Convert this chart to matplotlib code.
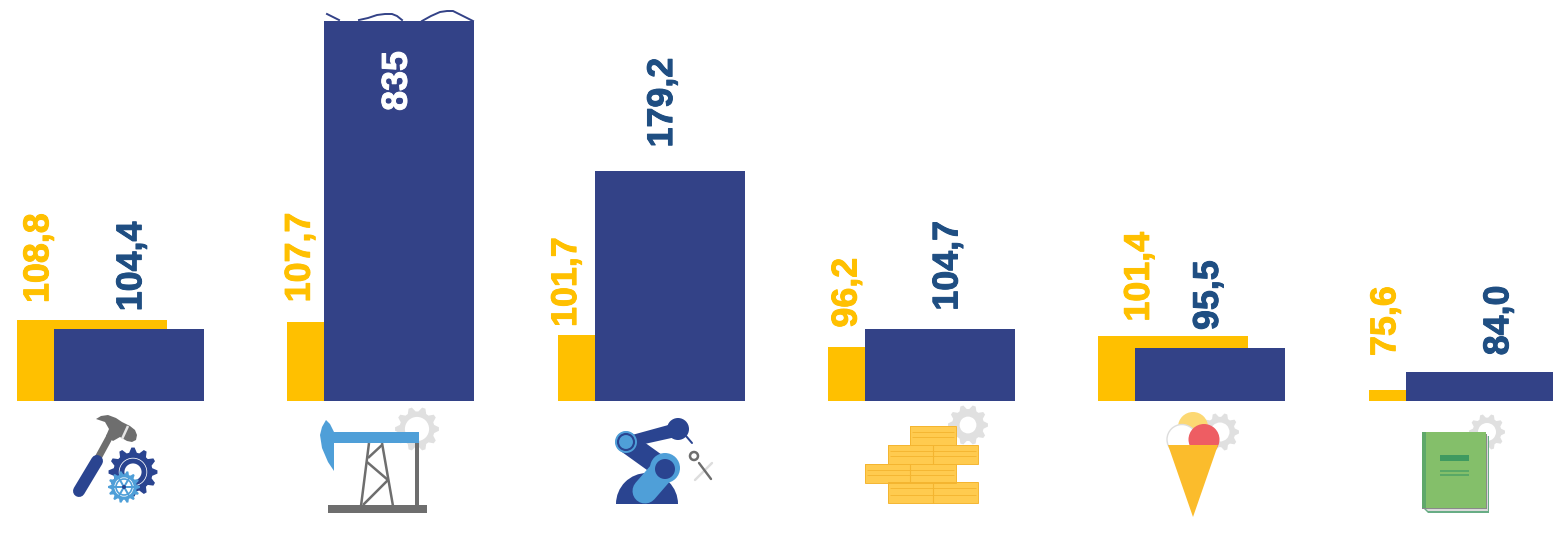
import numpy as np
import matplotlib
matplotlib.use("Agg")
import matplotlib.pyplot as plt
import matplotlib.patheffects as pe
from matplotlib.patches import Polygon, Circle, Rectangle, Wedge

# ---- data ----
series_a = [108.8, 107.7, 101.7, 96.2, 101.4, 75.6]
series_b = [104.4, 835.0, 179.2, 104.7, 95.5, 84.0]
labels_a = ["108,8", "107,7", "101,7", "96,2", "101,4", "75,6"]
labels_b = ["104,4", "835", "179,2", "104,7", "95,5", "84,0"]

# ---- label nudges in pixels, relative to the bar centre and top ----
nudge_a = [(-53, 17), (-62, 20), (-66, 8), (-56, 19), (-34, 14), (-58, 34)]
nudge_b = [(3, 18), (-2, 0), (-7, 24), (8, 18), (-2, 18), (18, 17)]

W, H = 1553, 536
YEL, BLU, TXT = "#FFC000", "#334287", "#1F4E82"
DARK, LIGHT, GREY, PALE = "#2A4490", "#4F9FD8", "#6E6E6E", "#E0E0E0"

fig = plt.figure(figsize=(W / 100, H / 100), dpi=100, facecolor="white")
ax = fig.add_axes([0, (H - 401) / H, 1, 380 / H])
step, first = 270.4, 91.8
ax.set_xlim(-first / step, (W - first) / step)
ax.set_ylim(70.4, 250.5)
ax.axis("off")
xs = np.arange(len(series_a))
bw, off = 150.0 / step, 37.0 / step
ax.bar(xs, series_a, width=bw, color=YEL, zorder=2)
ax.bar(xs + off, series_b, width=bw, color=BLU, zorder=3)

font = dict(rotation=90, ha="center", fontsize=25.8, fontweight="bold",
            family="Liberation Sans", textcoords="offset points", zorder=5)
def thick(t, c):
    t.set_path_effects([pe.withStroke(linewidth=0.7, foreground=c)])

for x, v, s, (dx, dy) in zip(xs, series_a, labels_a, nudge_a):
    thick(ax.annotate(s, (x, v), xytext=(dx * .72, dy * .72), va="bottom", color=YEL, **font), YEL)
for x, v, s, (dx, dy) in zip(xs + off, series_b, labels_b, nudge_b):
    if v > ax.get_ylim()[1]:
        thick(ax.annotate(s, (x, 1), xycoords=("data", "axes fraction"),
                          xytext=(dx * .72, -30 * .72), va="top", color="white", **font), "white")
    else:
        thick(ax.annotate(s, (x, v), xytext=(dx * .72, dy * .72), va="bottom", color=TXT, **font), TXT)

# ---- decoration overlay in pixel coordinates ----
ov = fig.add_axes([0, 0, 1, 1], facecolor="none")
ov.set_xlim(0, W); ov.set_ylim(H, 0); ov.axis("off")

def gear(cx, cy, r, col, hole=0.5, teeth=10, z=1):
    n = teeth * 4
    pts = []
    for i in range(n):
        a = 2 * np.pi * (i - .5) / n
        rr = r if i % 4 in (0, 1) else r * .8
        pts.append((cx + rr * np.cos(a), cy + rr * np.sin(a)))
    ov.add_patch(Polygon(pts, color=col, lw=0, zorder=z))
    ov.add_patch(Circle((cx, cy), r * hole, color="white", lw=0, zorder=z + .1))

def seg(p, q, w, col, z=3, cap="round"):
    ov.plot([p[0], q[0]], [p[1], q[1]], color=col, lw=w * .72, solid_capstyle=cap, zorder=z)

def poly(pts, col, z=3):
    ov.add_patch(Polygon(pts, color=col, lw=0, zorder=z))

def circ(c, r, col, z=3):
    ov.add_patch(Circle(c, r, color=col, lw=0, zorder=z))

def rect(x0, y0, x1, y1, col, z=3):
    ov.add_patch(Rectangle((x0, y0), x1 - x0, y1 - y0, color=col, lw=0, zorder=z))

# axis break on the tall bar
for path in ([(327, 14), (339, 20)],
             [(359, 20), (368, 18), (377, 15), (385, 14), (392, 14), (397, 16), (402, 20)],
             [(422, 21), (431, 16), (440, 12), (447, 11), (453, 11), (463, 16), (473, 21)]):
    ov.plot(*zip(*path), color=BLU, lw=1.4, zorder=6)

# hammer and gears
seg((79, 491), (97, 461), 12, DARK, 4)
seg((98, 458), (110, 436), 7, GREY, 3, "butt")
poly([(96, 419), (101, 416), (108, 415), (116, 418), (122, 422), (130, 426), (135, 430), (137, 435),
      (136, 440), (132, 442), (127, 441), (120, 437), (113, 441), (106, 436), (109, 429), (105, 422)], GREY)
seg((128, 426), (122, 439), 2.5, "#E4E4E4", 4, "butt")
gear(133, 472, 24.5, DARK, .58, 12)
ov.add_patch(Circle((133, 472), 11, fc="none", ec=DARK, lw=3.5, zorder=3))
gear(124, 487, 16, LIGHT, .6, 14, z=4)
ov.add_patch(Circle((124, 487), 8, fc="none", ec=LIGHT, lw=1.2, zorder=5))
for k in range(6):
    a = k * np.pi / 3
    seg((124, 487), (124 + 12 * np.cos(a), 487 + 12 * np.sin(a)), 2, LIGHT, 5)
circ((124, 487), 2, DARK, 6)

# pump jack
gear(417, 429, 22, PALE, .55, 10)
poly([(326, 420), (330, 424), (334, 432), (419, 432), (419, 443), (334, 443), (334, 471),
      (328, 462), (322, 448), (320, 435), (322, 427)], LIGHT, 4)
rect(328, 505, 427, 513, GREY)
seg((417, 443), (417, 505), 4, GREY, 3, "butt")
for p, q in [((369, 443), (361, 506)), ((382, 443), (393, 506)), ((382, 445), (368, 458)),
             ((367, 462), (388, 480)), ((388, 480), (363, 505))]:
    seg(p, q, 2.5, GREY, 3, "butt")

# robot arm
poly([(632, 435), (672, 424), (676, 437), (640, 445)], DARK)
circ((678, 429), 11, DARK)
seg((686, 436), (692, 443), 2, DARK)
ov.add_patch(Wedge((647, 504), 31, 180, 360, color=DARK, lw=0, zorder=3))
seg((626, 442), (665, 470), 21, DARK, 4)
seg((645, 491), (665, 468), 25, LIGHT, 5)
circ((665, 468), 15, LIGHT, 6)
circ((665, 469), 10, DARK, 7)
circ((626, 442), 11, LIGHT, 5)
ov.add_patch(Circle((626, 442), 8, fc=LIGHT, ec=DARK, lw=1.5, zorder=6))
seg((695, 480), (712, 463), 2.4, "#DDDDDD", 3)
seg((699, 463), (711, 479), 2.4, GREY, 4)
ov.add_patch(Circle((694, 456), 4, fc="white", ec=GREY, lw=1.8, zorder=5))

# bricks
BR, GR = "#FFCB4F", "#F4B530"
gear(968, 425, 20, PALE, .42, 10, z=1)
for x0, x1, y0, y1, cut in [(910, 956, 426, 445, None), (888, 978, 445, 464, 933),
                            (865, 956, 464, 483, 910), (888, 978, 482, 503, 933)]:
    rect(x0, y0, x1, y1, BR)
    ov.add_patch(Rectangle((x0, y0), x1 - x0, y1 - y0, fc="none", ec=GR, lw=.7, zorder=4))
    for fr in (.3, .6):
        y = y0 + fr * (y1 - y0)
        seg((x0 + 2, y), (x1 - 2, y), .9, GR, 4, "butt")
    if cut:
        seg((cut, y0), (cut, y1), 1.1, GR, 4, "butt")

# ice cream
gear(1220, 432, 19, PALE, .5, 10)
circ((1193, 427), 15, "#FCD873", 3)
ov.add_patch(Circle((1182, 439.5), 15, fc="white", ec="#DDDDDD", lw=1, zorder=4))
circ((1204, 439.5), 15.5, "#EE5D63", 5)
poly([(1168, 445), (1218, 445), (1193, 517)], "#FBBC2C", 6)

# book
gear(1487, 432, 18, PALE, .5, 10)
poly([(1422, 507), (1428, 513), (1489, 513), (1489, 436), (1485, 436), (1485, 507)], "#68AD85", 3)
poly([(1424, 507), (1428, 511), (1488, 511), (1488, 436), (1485, 436), (1485, 507)], "#DADADA", 4)
rect(1485, 434, 1487, 508, "#8A8A8A", 5)
rect(1422, 507, 1487, 508.5, "#8A8A8A", 5)
rect(1422, 432, 1485.5, 507.5, "#84BF6A", 6)
rect(1422, 432, 1425.5, 507.5, "#5FA86A", 7)
rect(1440, 455, 1469, 461, "#3F9A60", 7)
for y in (471, 475):
    seg((1440, y), (1469, y), 1.6, "#4FA365", 7, "butt")

fig.savefig("out.png", dpi=100, facecolor="white")
